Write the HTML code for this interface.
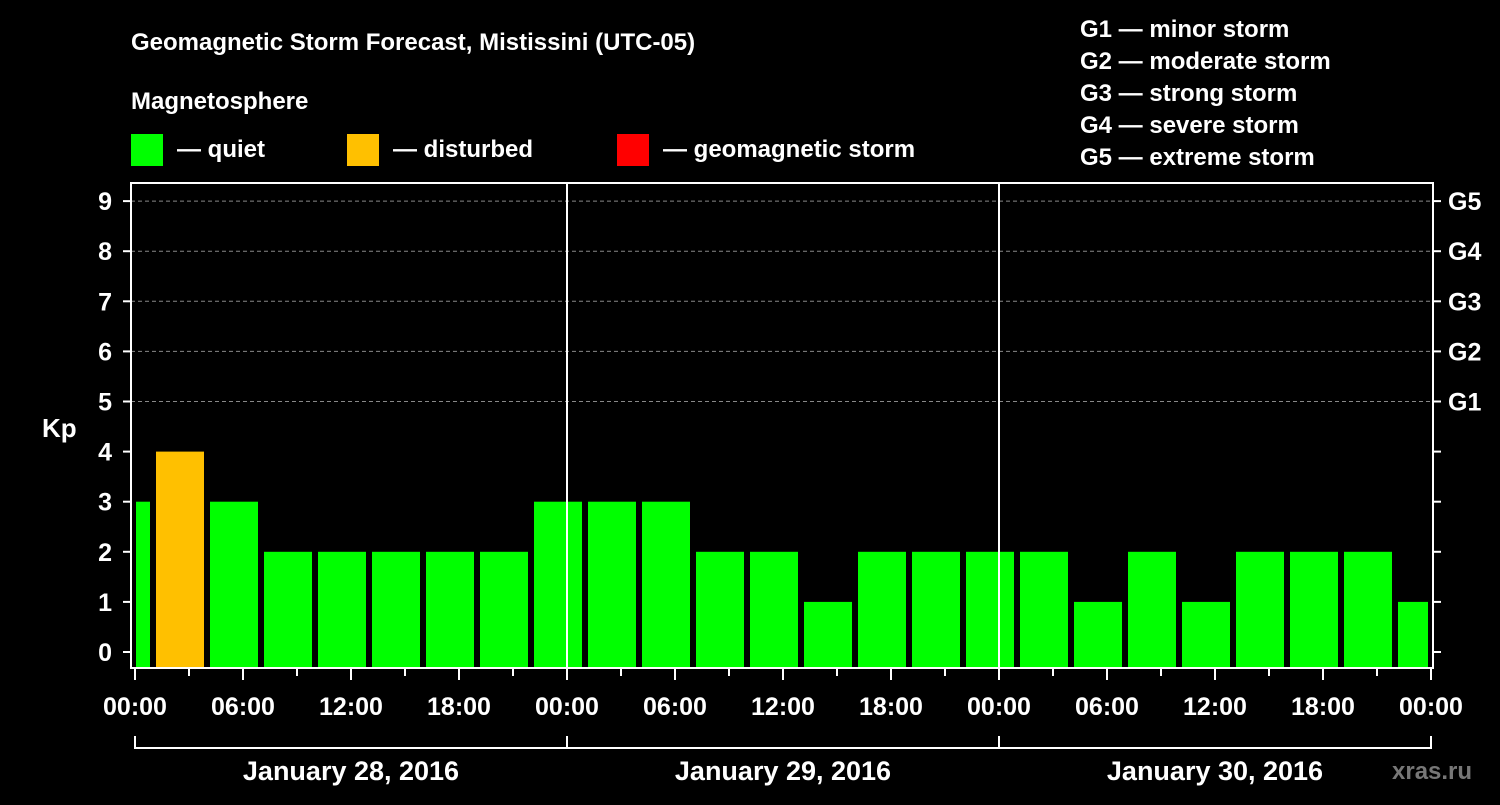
<!DOCTYPE html>
<html><head><meta charset="utf-8"><style>
html,body{margin:0;padding:0;background:#000;}
svg text{font-family:"Liberation Sans",Arial,sans-serif;font-weight:bold;fill:#fff;}
</style></head><body>
<svg id="chart" width="1500" height="800" xmlns="http://www.w3.org/2000/svg">
<rect width="1500" height="800" fill="#000"/>
<text x="131" y="50" font-size="24">Geomagnetic Storm Forecast, Mistissini (UTC-05)</text>
<text x="131" y="109" font-size="24">Magnetosphere</text>
<g><rect x="131" y="134" width="32" height="32" fill="#00ff00"/><text x="177" y="157" font-size="24">— quiet</text></g>
<g><rect x="347" y="134" width="32" height="32" fill="#ffc000"/><text x="393" y="157" font-size="24">— disturbed</text></g>
<g><rect x="617" y="134" width="32" height="32" fill="#ff0000"/><text x="663" y="157" font-size="24">— geomagnetic storm</text></g>
<g font-size="24">
<text x="1080" y="37">G1 — minor storm</text>
<text x="1080" y="69">G2 — moderate storm</text>
<text x="1080" y="101">G3 — strong storm</text>
<text x="1080" y="133">G4 — severe storm</text>
<text x="1080" y="165">G5 — extreme storm</text>
</g>
<text x="42" y="437" font-size="26">Kp</text>
<text x="1392" y="779" font-size="24" fill="#777" style="fill:#777">xras.ru</text>
<g id="grid"></g><g id="bars"></g><g id="axes"></g>
</svg>
<script>
const kpValues=[3,4,3,2,2,2,2,2,3,3,3,2,2,1,2,2,2,2,1,2,1,2,2,2,1];
const hourLabels=["00:00","06:00","12:00","18:00"];
const dayLabels=["January 28, 2016","January 29, 2016","January 30, 2016"];
const gLabels=["G1","G2","G3","G4","G5"];
const NS="http://www.w3.org/2000/svg";
const X0=135,PXH=18,Y0=652,PXK=50.1,LEFT=131,RIGHT=1433,TOP=183,BOT=668;
const xs=h=>X0+h*PXH, ys=k=>Y0-k*PXK;
function mk(t,a,p){const e=document.createElementNS(NS,t);for(const k in a)e.setAttribute(k,a[k]);p.appendChild(e);return e;}
const grid=document.getElementById('grid'),bars=document.getElementById('bars'),axes=document.getElementById('axes');
for(let k=5;k<=9;k++){const l=mk('line',{x1:LEFT,x2:RIGHT,y1:ys(k),y2:ys(k),stroke:'#888','stroke-dasharray':'4,3','stroke-width':1},grid);

}
kpValues.forEach((v,i)=>{const s=-2+3*i;let x1=Math.max(xs(s)+3,136),x2=Math.min(xs(s+3)-3,1428);
const r=mk('rect',{x:x1,y:ys(v),width:x2-x1,height:BOT-ys(v),fill:v>=5?'#ff0000':(v>=4?'#ffc000':'#00ff00')},bars);

});
mk('rect',{x:LEFT,y:TOP,width:RIGHT-LEFT,height:BOT-TOP,fill:'none',stroke:'#fff','stroke-width':2},axes);
for(let d=1;d<3;d++){mk('line',{x1:xs(24*d),x2:xs(24*d),y1:TOP,y2:BOT,stroke:'#fff','stroke-width':2},axes);}
for(let k=0;k<=9;k++){mk('line',{x1:123,x2:LEFT,y1:ys(k),y2:ys(k),stroke:'#fff','stroke-width':2},axes);
mk('line',{x1:RIGHT,x2:1441,y1:ys(k),y2:ys(k),stroke:'#fff','stroke-width':2},axes);
const t=mk('text',{x:112,y:ys(k)+9,'font-size':25,'text-anchor':'end'},axes);t.textContent=k;

}
gLabels.forEach((g,i)=>{const t=mk('text',{x:1448,y:ys(5+i)+9,'font-size':25},axes);t.textContent=g;

});
for(let h=0;h<=72;h+=3){const major=h%6===0;mk('line',{x1:xs(h),x2:xs(h),y1:BOT,y2:BOT+(major?12:8),stroke:'#fff','stroke-width':2},axes);
if(major){const t=mk('text',{x:xs(h),y:715,'font-size':25,'text-anchor':'middle'},axes);t.textContent=hourLabels[(h/6)%4];

}}
mk('line',{x1:xs(0),x2:xs(72),y1:748,y2:748,stroke:'#fff','stroke-width':2},axes);
for(let d=0;d<=3;d++)mk('line',{x1:xs(24*d),x2:xs(24*d),y1:736,y2:749,stroke:'#fff','stroke-width':2},axes);
dayLabels.forEach((s,i)=>{const t=mk('text',{x:xs(24*i+12),y:780,'font-size':27,'text-anchor':'middle'},axes);t.textContent=s;

});
</script>
</body></html>
